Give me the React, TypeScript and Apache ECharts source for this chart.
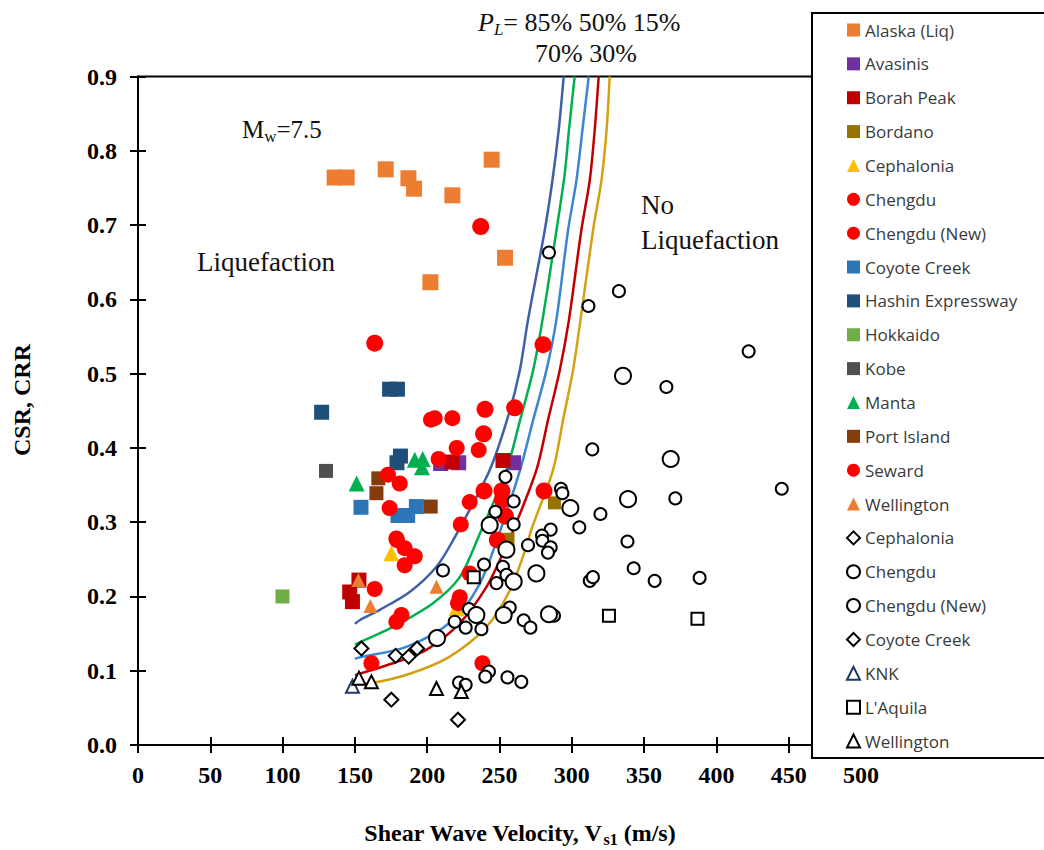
import React, { useEffect, useRef } from "react";
import * as echarts from "echarts";

// ---------- data ----------
const xTicks = { min: 0, max: 500, interval: 50 };
const yTicks = { min: 0, max: 0.9, interval: 0.1 };

const alaska = [[136, 0.764], [144.3, 0.764], [171.3, 0.775], [187, 0.763], [190.9, 0.749], [217.4, 0.74], [244.6, 0.788], [253.8, 0.656], [202.2, 0.623]];
const avasinis = [[209.3, 0.379], [221.8, 0.38], [259.8, 0.38]];
const borahPeak = [[217.2, 0.381], [252.4, 0.383], [146.4, 0.206], [148.3, 0.193], [152.8, 0.222]];
const bordano = [[288, 0.326], [255.9, 0.277]];
const cephaloniaLiq = [[175.2, 0.258], [220.2, 0.184]];
const chengduLiq = [[202.6, 0.438], [205.2, 0.44], [217.4, 0.44], [220.4, 0.4], [235.6, 0.397], [207.9, 0.385], [229.4, 0.327], [223.2, 0.297], [229.4, 0.231], [222.5, 0.199], [221.3, 0.191]];
const chengduNewLiq = [[237, 0.698], [163.7, 0.541], [280.1, 0.539], [240, 0.452], [260.5, 0.454], [239, 0.419], [239.3, 0.342], [251.7, 0.342], [252, 0.33], [280.8, 0.342], [254.1, 0.308], [248.5, 0.276]];
const coyoteLiq = [[154.2, 0.32], [179.8, 0.309], [186.5, 0.309], [192.5, 0.321]];
const hashin = [[127, 0.448], [174, 0.479], [179.4, 0.479], [181.5, 0.389], [179.1, 0.38]];
const hokkaido = [[99.9, 0.2]];
const kobe = [[130, 0.369]];
const manta = [[151.2, 0.352], [191.4, 0.384], [196.9, 0.385], [196.4, 0.374]];
const portIsland = [[166.2, 0.359], [164.9, 0.339], [202.4, 0.321]];
const seward = [[172.9, 0.364], [181, 0.352], [174, 0.319], [178.7, 0.278], [179.1, 0.276], [184.4, 0.265], [191.4, 0.254], [184.4, 0.242], [163.7, 0.21], [182.2, 0.175], [178.7, 0.166], [161.4, 0.11], [238.2, 0.11]];
const wellingtonLiq = [[152.4, 0.222], [160.7, 0.187], [206.4, 0.213]];
const cephaloniaNon = [[154.5, 0.13], [193, 0.13], [178.2, 0.12]];
const chengduNon = [[254.1, 0.361], [259.8, 0.328], [247.2, 0.314], [259.8, 0.297], [292.5, 0.345], [293.5, 0.339], [314.2, 0.398], [319.8, 0.311], [305.2, 0.293], [285.4, 0.29], [279.4, 0.282], [279.7, 0.275], [285.4, 0.266], [283.5, 0.259], [269.7, 0.269], [239.3, 0.243], [210.9, 0.235], [252.4, 0.24], [254.8, 0.229], [247.9, 0.218], [312.4, 0.221], [314.6, 0.226], [257.1, 0.185], [266.7, 0.168], [271.4, 0.158], [287.7, 0.174], [228.9, 0.183], [226.6, 0.158], [237.5, 0.156], [219, 0.166], [242.7, 0.099], [240.2, 0.092], [255.5, 0.091], [265.1, 0.085], [222, 0.084], [226.6, 0.081], [284.2, 0.663], [311.5, 0.591], [332.6, 0.611], [422.3, 0.53], [365.4, 0.482], [445.2, 0.345], [371.6, 0.332], [338.5, 0.274], [342.8, 0.238], [357.3, 0.221], [388.4, 0.225]];
const chengduNewNon = [[243.2, 0.296], [254.8, 0.263], [275.5, 0.231], [252.9, 0.175], [284.2, 0.176], [234, 0.175], [206.8, 0.144], [299, 0.319], [338.9, 0.331], [335.4, 0.497], [368.4, 0.385], [259.8, 0.22]];
const coyoteNon = [[187.2, 0.119], [175.2, 0.061], [221.3, 0.034]];
const knk = [[148.3, 0.079]];
const laquila = [[232.2, 0.226], [325.7, 0.174], [386.9, 0.17]];
const wellingtonNon = [[152.8, 0.09], [161.4, 0.085], [206.4, 0.076], [223.6, 0.072]];

// probability curves
const pl85 = [[150, 0.163], [153.3, 0.168], [167.2, 0.182], [187.9, 0.206], [206.4, 0.24], [218, 0.276], [243.2, 0.37], [255.9, 0.442], [264, 0.504], [269.7, 0.572], [281.3, 0.693], [286.6, 0.76], [290.9, 0.827], [294.4, 0.9]];
const pl70 = [[150, 0.135], [153.3, 0.138], [176.3, 0.159], [204, 0.191], [222.5, 0.226], [236.3, 0.284], [254.8, 0.37], [264.2, 0.437], [273.2, 0.504], [279.7, 0.572], [289.4, 0.693], [295.1, 0.769], [298, 0.827], [302, 0.9]];
const pl50 = [[150, 0.116], [153.3, 0.118], [185.6, 0.132], [217.8, 0.168], [236.3, 0.217], [249, 0.28], [264.2, 0.37], [273.2, 0.437], [282.4, 0.504], [289.3, 0.572], [297.4, 0.693], [303.2, 0.76], [307.3, 0.827], [311.7, 0.9]];
const pl30 = [[150, 0.094], [153.3, 0.096], [176.3, 0.11], [199.4, 0.128], [222.5, 0.164], [241, 0.213], [252.4, 0.258], [258.7, 0.285], [275.5, 0.37], [283.5, 0.437], [291.6, 0.504], [298, 0.572], [306.6, 0.693], [312.4, 0.76], [315.8, 0.827], [318.6, 0.9]];
const pl15 = [[150, 0.082], [160.2, 0.083], [188, 0.096], [215.6, 0.119], [241, 0.159], [257.1, 0.208], [268.6, 0.267], [272, 0.29], [287, 0.37], [293.9, 0.437], [300.8, 0.504], [306, 0.572], [314.7, 0.693], [320.5, 0.76], [324, 0.827], [326.2, 0.9]];

const legendNames = ["Alaska (Liq)", "Avasinis", "Borah Peak", "Bordano", "Cephalonia", "Chengdu", "Chengdu (New)", "Coyote Creek", "Hashin Expressway", "Hokkaido", "Kobe", "Manta", "Port Island", "Seward", "Wellington", "Cephalonia#2", "Chengdu#2", "Chengdu (New)#2", "Coyote Creek#2", "KNK", "L'Aquila", "Wellington#2"];

const SERIF = '"Liberation Serif", "Times New Roman", serif';

function filled(name: string, data: number[][], symbol: string, size: number, color: string) {
  return { type: "scatter", name, data, symbol, symbolSize: size, itemStyle: { color, opacity: 1 }, z: 3 };
}
function hollow(name: string, data: number[][], symbol: string, size: number, color: string) {
  return { type: "scatter", name, data, symbol, symbolSize: size, itemStyle: { color: "#ffffff", borderColor: color, borderWidth: 2, opacity: 1 }, z: 3 };
}
function curve(name: string, data: number[][], color: string) {
  return { type: "line", name, data, smooth: 0.3, showSymbol: false, symbol: "none", lineStyle: { color, width: 2.5 }, z: 2 };
}

type Part = { text: string; font: string; dy: number };
function runText(x: number, y: number, parts: Part[], anchor: "left" | "center", fill: string) {
  const ctx = document.createElement("canvas").getContext("2d") as CanvasRenderingContext2D;
  const widths = parts.map((p) => {
    ctx.font = p.font;
    return ctx.measureText(p.text).width;
  });
  const total = widths.reduce((a, b) => a + b, 0);
  let cx = anchor === "center" ? x - total / 2 : x;
  return parts.map((p, i) => {
    const el = { type: "text", x: cx, y: y + p.dy, z: 5, style: { text: p.text, font: p.font, fill, align: "left", verticalAlign: "middle" } };
    cx += widths[i];
    return el;
  });
}

export default function App() {
  const ref = useRef<HTMLDivElement>(null);
  useEffect(() => {
    const chart = echarts.init(ref.current as HTMLDivElement, null, { renderer: "svg" });
    const gridW = 723;
    const gridH = 668.5;
    const tickStyle = { color: "#000", width: 2 };
    const option: any = {
      animation: false,
      backgroundColor: "#fff",
      grid: { left: 138, top: 76.5, right: 183, bottom: 105, show: true, borderColor: "#000", borderWidth: 2, backgroundColor: "transparent" },
      xAxis: [
        {
          type: "value", ...xTicks, position: "bottom",
          axisLine: { show: true, onZero: false, lineStyle: tickStyle },
          axisTick: { show: true, length: 8, lineStyle: tickStyle },
          axisLabel: { fontFamily: SERIF, fontWeight: "bold", fontSize: 24, color: "#000", margin: 18 },
          splitLine: { show: false },
        },
        {
          type: "value", ...xTicks, position: "top", offset: -gridH,
          axisLine: { show: false, onZero: false },
          axisTick: { show: true, length: 8, lineStyle: tickStyle },
          axisLabel: { show: false }, splitLine: { show: false },
        },
      ],
      yAxis: [
        {
          type: "value", ...yTicks, position: "left",
          axisLine: { show: true, onZero: false, lineStyle: tickStyle },
          axisTick: { show: true, length: 8, lineStyle: tickStyle },
          axisLabel: { fontFamily: SERIF, fontWeight: "bold", fontSize: 24, color: "#000", margin: 21, formatter: (v: number) => v.toFixed(1) },
          splitLine: { show: false },
        },
        {
          type: "value", ...yTicks, position: "right", offset: -gridW,
          axisLine: { show: false, onZero: false },
          axisTick: { show: true, length: 8, lineStyle: tickStyle },
          axisLabel: { show: false }, splitLine: { show: false },
        },
      ],
      legend: {
        data: legendNames,
        orient: "vertical",
        left: 846,
        top: 20,
        itemWidth: 13,
        itemHeight: 13,
        itemGap: 13.86,
        padding: 0,
        z: 30,
        selectedMode: false,
        formatter: (n: string) => n.replace(/#\d+$/, ""),
        textStyle: { fontFamily: '"Open Sans", "Noto Sans", sans-serif', fontSize: 17, color: "#3a3a3a", lineHeight: 20 },
      },
      graphic: [
        { type: "rect", z: 20, shape: { x: 812, y: 13, width: 260, height: 745 }, style: { fill: "#fff", stroke: "#000", lineWidth: 2 } },
        ...runText(242, 129, [
          { text: "M", font: `25px ${SERIF}`, dy: 0 },
          { text: "w", font: `17px ${SERIF}`, dy: 7 },
          { text: "=7.5", font: `25px ${SERIF}`, dy: 0 },
        ], "left", "#111"),
        { type: "text", x: 197, y: 262, z: 5, style: { text: "Liquefaction", font: `27px ${SERIF}`, fill: "#111", align: "left", verticalAlign: "middle" } },
        { type: "text", x: 641, y: 205, z: 5, style: { text: "No", font: `27px ${SERIF}`, fill: "#111", align: "left", verticalAlign: "middle" } },
        { type: "text", x: 641, y: 240, z: 5, style: { text: "Liquefaction", font: `27px ${SERIF}`, fill: "#111", align: "left", verticalAlign: "middle" } },
        ...runText(478, 22, [
          { text: "P", font: `italic 26px ${SERIF}`, dy: 0 },
          { text: "L", font: `italic 17px ${SERIF}`, dy: 7 },
          { text: "= 85% 50% 15%", font: `26px ${SERIF}`, dy: 0 },
        ], "left", "#111"),
        { type: "text", x: 535, y: 53, z: 5, style: { text: "70% 30%", font: `26px ${SERIF}`, fill: "#111", align: "left", verticalAlign: "middle" } },
        { type: "text", x: 22, y: 400, rotation: Math.PI / 2, z: 5, style: { text: "CSR, CRR", font: `bold 24px ${SERIF}`, fill: "#000", align: "center", verticalAlign: "middle" } },
        ...runText(520, 833, [
          { text: "Shear Wave Velocity, V", font: `bold 24px ${SERIF}`, dy: 0 },
          { text: "s1", font: `bold 16px ${SERIF}`, dy: 6 },
          { text: " (m/s)", font: `bold 24px ${SERIF}`, dy: 0 },
        ], "center", "#000"),
      ],
      series: [
        curve("PL 85%", pl85, "#3F5FA8"),
        curve("PL 70%", pl70, "#00B050"),
        curve("PL 50%", pl50, "#3A86D0"),
        curve("PL 30%", pl30, "#C00000"),
        curve("PL 15%", pl15, "#D4A010"),
        filled("Alaska (Liq)", alaska, "rect", 16, "#ED7D31"),
        filled("Avasinis", avasinis, "rect", 15, "#7030A0"),
        filled("Borah Peak", borahPeak, "rect", 15, "#C00000"),
        filled("Bordano", bordano, "rect", 13, "#997300"),
        filled("Cephalonia", cephaloniaLiq, "triangle", 16, "#FFC000"),
        filled("Chengdu", chengduLiq, "circle", 16, "#FF0000"),
        filled("Chengdu (New)", chengduNewLiq, "circle", 17, "#FF0000"),
        filled("Coyote Creek", coyoteLiq, "rect", 15, "#2E75B6"),
        filled("Hashin Expressway", hashin, "rect", 15, "#1F4E79"),
        filled("Hokkaido", hokkaido, "rect", 14, "#70AD47"),
        filled("Kobe", kobe, "rect", 14, "#505050"),
        filled("Manta", manta, "triangle", 16, "#00B050"),
        filled("Port Island", portIsland, "rect", 14, "#843C0C"),
        filled("Seward", seward, "circle", 16, "#FF0000"),
        filled("Wellington", wellingtonLiq, "triangle", 14, "#ED7D31"),
        hollow("Cephalonia#2", cephaloniaNon, "diamond", 14, "#000"),
        hollow("Chengdu#2", chengduNon, "circle", 12, "#000"),
        hollow("Chengdu (New)#2", chengduNewNon, "circle", 16, "#000"),
        hollow("Coyote Creek#2", coyoteNon, "diamond", 14, "#000"),
        hollow("KNK", knk, "triangle", 13, "#1F3864"),
        hollow("L'Aquila", laquila, "rect", 12, "#000"),
        hollow("Wellington#2", wellingtonNon, "triangle", 13, "#000"),
      ],
    };
    chart.setOption(option);
    return () => chart.dispose();
  }, []);
  return <div ref={ref} style={{ position: "fixed", left: 0, top: 0, width: 1044, height: 850, background: "#fff" }} />;
}
